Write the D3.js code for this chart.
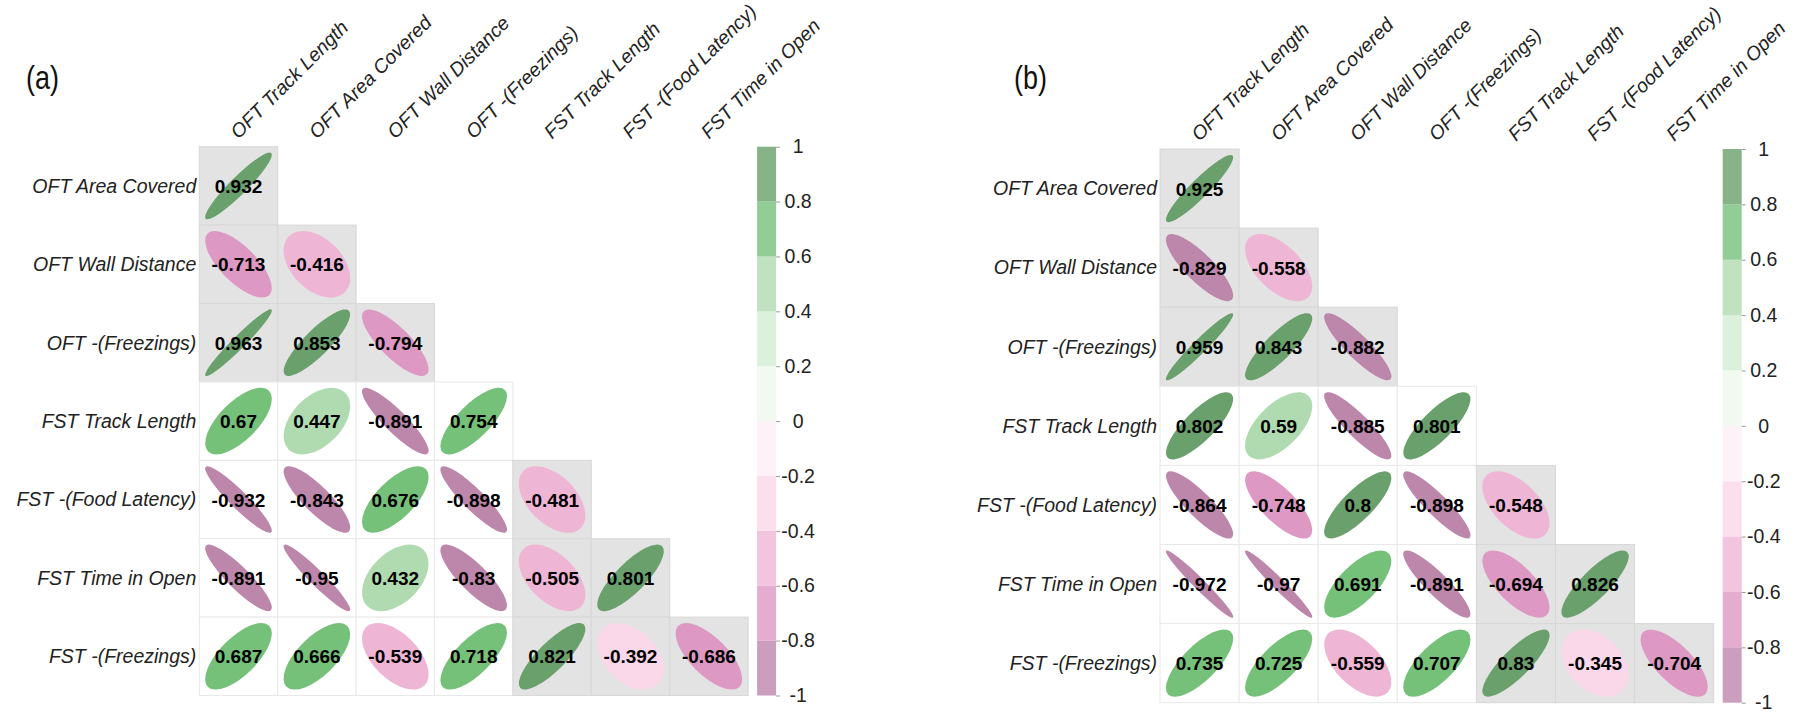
<!DOCTYPE html>
<html>
<head>
<meta charset="utf-8">
<script src="https://cdn.jsdelivr.net/npm/d3@7"></script>
<style>
body{margin:0;background:#fff;}
text{font-family:Arial,"Liberation Sans",sans-serif;}
</style>
</head>
<body>
<div id="chart"></div>
<script>
let varNames = ["OFT Track Length","OFT Area Covered","OFT Wall Distance","OFT -(Freezings)",
                "FST Track Length","FST -(Food Latency)","FST Time in Open","FST -(Freezings)"];
let rowLabels = varNames.slice(1);
let colLabels = varNames.slice(0,7);

// lower triangle, one row per rowLabel
let corrA = [
  [0.932],
  [-0.713,-0.416],
  [0.963,0.853,-0.794],
  [0.67,0.447,-0.891,0.754],
  [-0.932,-0.843,0.676,-0.898,-0.481],
  [-0.891,-0.95,0.432,-0.83,-0.505,0.801],
  [0.687,0.666,-0.539,0.718,0.821,-0.392,-0.686]
];
let corrB = [
  [0.925],
  [-0.829,-0.558],
  [0.959,0.843,-0.882],
  [0.802,0.59,-0.885,0.801],
  [-0.864,-0.748,0.8,-0.898,-0.548],
  [-0.972,-0.97,0.691,-0.891,-0.694,0.826],
  [0.735,0.725,-0.559,0.707,0.83,-0.345,-0.704]
];

let legendTicks = [1,0.8,0.6,0.4,0.2,0,-0.2,-0.4,-0.6,-0.8,-1];
let binEdges = [-0.8,-0.6,-0.4,-0.2,0,0.2,0.4,0.6,0.8];
let binColors = ["#bd86ab","#dd99c4","#efb5d5","#fad7e9","#fdeff6",
                 "#eef8ee","#d2eed2","#b0dbb0","#76c179","#69a06b"];

let width = 1805, height = 712;

let panels = [
  {label:"(a)", data:corrA, x0:199.3, y0:146.7, cell:78.4, lx:26},
  {label:"(b)", data:corrB, x0:1160, y0:149, cell:79.1, lx:1014}
];

let color = d3.scaleThreshold().domain(binEdges).range(binColors);

let svg = d3.select("#chart").append("svg")
  .attr("width", width).attr("height", height);

panels.forEach(function(p){
  let size = p.cell*7;
  let x = d3.scaleBand().domain(colLabels).range([p.x0, p.x0+size]);
  let y = d3.scaleBand().domain(rowLabels).range([p.y0, p.y0+size]);
  let g = svg.append("g");

  g.append("text").text(p.label)
    .attr("x", p.lx).attr("y", 89)
    .attr("font-size", 34)
    .attr("textLength", 33).attr("lengthAdjust","spacingAndGlyphs")
    .attr("fill", "#111");

  let cells = p.data.flatMap(function(row,i){
    return row.map(function(v,j){ return {r:rowLabels[i], c:colLabels[j], v:v}; });
  });
  let sameTest = function(d){ return d.r.slice(0,3)===d.c.slice(0,3); };

  g.selectAll("rect.cell").data(cells).enter().append("rect")
    .attr("class","cell")
    .attr("x", d=>x(d.c)).attr("y", d=>y(d.r))
    .attr("width", x.bandwidth()).attr("height", y.bandwidth())
    .attr("fill", d=>sameTest(d) ? "#e3e3e3" : "#fff")
    .attr("stroke", d=>sameTest(d) ? "#d8d8d8" : "#e8e8e8")
    .attr("stroke-width", 1);

  let s = 0.425*p.cell;
  g.selectAll("ellipse").data(cells).enter().append("ellipse")
    .attr("rx", d=>s*Math.SQRT2*Math.cos(Math.acos(d.v)/2))
    .attr("ry", d=>s*Math.SQRT2*Math.sin(Math.acos(d.v)/2))
    .attr("transform", d=>"translate("+(x(d.c)+x.bandwidth()/2)+","+(y(d.r)+y.bandwidth()/2)+") rotate(-45)")
    .attr("fill", d=>color(d.v));

  g.selectAll("text.val").data(cells).enter().append("text")
    .attr("class","val")
    .attr("x", d=>x(d.c)+x.bandwidth()/2)
    .attr("y", d=>y(d.r)+y.bandwidth()/2)
    .attr("dy","0.37em")
    .attr("text-anchor","middle")
    .attr("font-size",19)
    .attr("font-weight","bold")
    .attr("fill","#000")
    .text(d=>String(d.v));

  g.selectAll("text.row").data(rowLabels).enter().append("text")
    .attr("class","row")
    .attr("x", p.x0-3)
    .attr("y", d=>y(d)+y.bandwidth()/2)
    .attr("dy","0.35em")
    .attr("text-anchor","end")
    .attr("font-size",19.5)
    .attr("font-style","italic")
    .attr("fill","#222")
    .text(d=>d);

  g.selectAll("text.col").data(colLabels).enter().append("text")
    .attr("class","col")
    .attr("transform", d=>"translate("+(x(d)+x.bandwidth()/2)+","+(p.y0-7)+") rotate(-45)")
    .attr("font-size",19.5)
    .attr("font-style","italic")
    .attr("fill","#222")
    .text(d=>d);

  // colour legend
  let barX = p.x0+size+9, barW = 19;
  let ly = d3.scaleLinear().domain([-1,1]).range([p.y0+size, p.y0]);
  let edges = legendTicks.slice().sort(d3.ascending);
  let bins = edges.slice(0,-1).map((lo,i)=>({lo:lo, hi:edges[i+1]}));
  g.selectAll("rect.bin").data(bins).enter().append("rect")
    .attr("class","bin")
    .attr("x", barX).attr("width", barW)
    .attr("y", d=>ly(d.hi)).attr("height", d=>ly(d.lo)-ly(d.hi))
    .attr("fill", d=>color((d.lo+d.hi)/2))
    .attr("fill-opacity", 0.8);

  let axis = g.append("g")
    .attr("transform","translate("+(barX+barW)+",0)")
    .call(d3.axisRight(ly).tickValues(legendTicks).tickSize(4).tickFormat(d=>String(d)));
  axis.select(".domain").remove();
  axis.selectAll(".tick line").attr("stroke","#999");
  axis.selectAll(".tick text")
    .attr("x", 22).attr("text-anchor","middle")
    .attr("font-size",19.5).attr("font-family","Arial, 'Liberation Sans', sans-serif")
    .attr("fill","#222");
});
</script>
</body>
</html>
